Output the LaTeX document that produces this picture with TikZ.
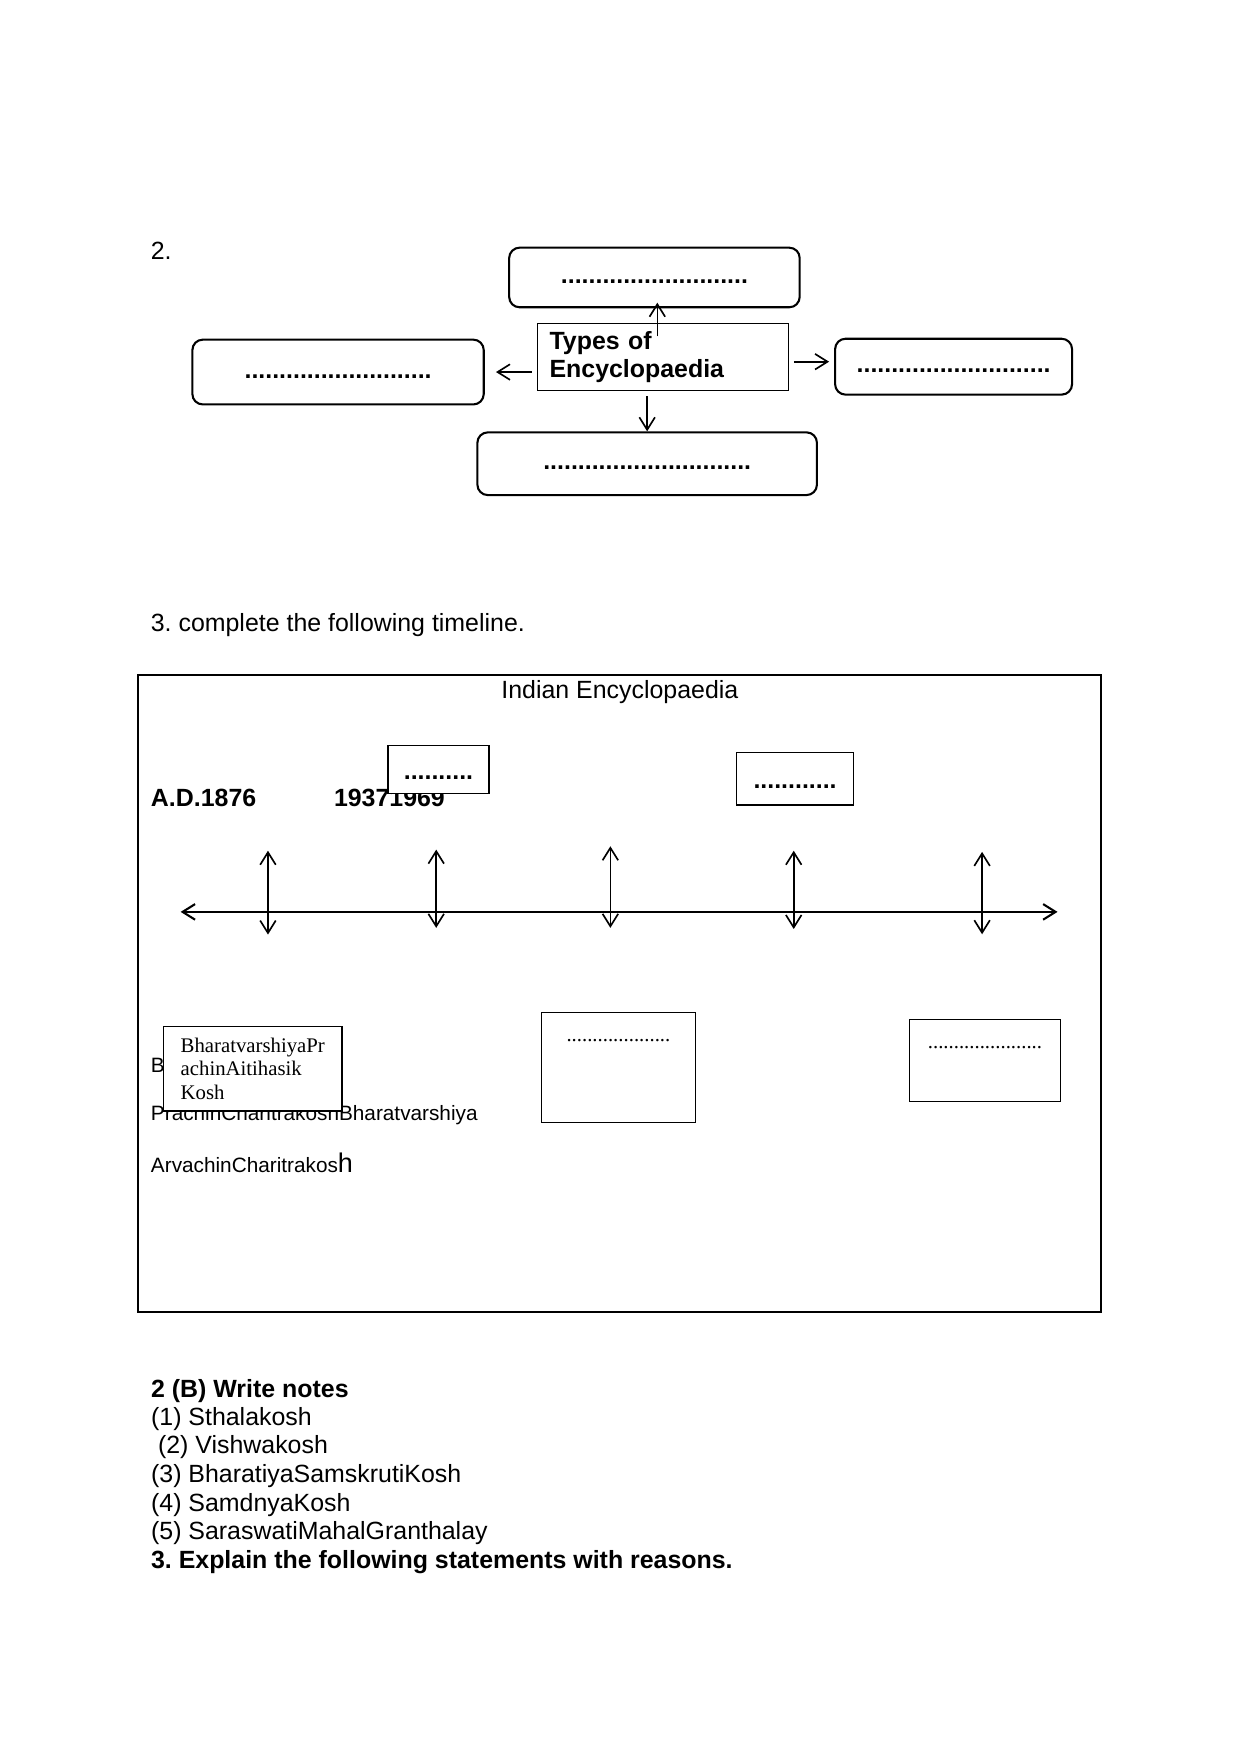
\documentclass[tikz,border=0pt]{standalone}
\usepackage{fontspec}
\setmainfont{Liberation Sans}
\newfontfamily\timesfont{Liberation Serif}
\usepackage{tikz}
\usetikzlibrary{arrows.meta}
\usetikzlibrary{positioning}
\newcommand{\twelve}{\fontsize{12}{13.8}\selectfont}
\newcommand{\ten}{\fontsize{10}{11.4}\selectfont}
\frenchspacing

\begin{document}
\begin{tikzpicture}[x=0.018919cm, y=-0.018919cm,
    every node/.style={inner sep=0pt},
    tip/.style={-{Straight Barb[length=6pt, width=7.5pt]}},
    twotip/.style={{Straight Barb[length=6pt, width=7.5pt]}-{Straight Barb[length=6pt, width=7.5pt]}}]

    % page
    \useasboundingbox (0,0) rectangle (1110,1569);

    % question 2
    \node[anchor=base west, font=\twelve] (q2) at (134.6,232) {2.};

    % centre box
    \node[draw, line width=0.5pt, minimum width=120.8pt, minimum height=32.2pt,
          text width=109.4pt, align=left, font=\fontsize{12}{13.6}\selectfont\bfseries]
        (types) at (593.2,319.2) {Types of\\Encyclopaedia\vphantom{g}\\[-4pt]};

    % boxes to fill in
    \begin{scope}[every node/.style={draw, rounded corners=5pt, line width=1pt, inner sep=0pt,
                                     text height=6pt, font=\twelve\bfseries}]
        \node[minimum width=139.9pt, minimum height=28.7pt] (top) at (585.4,248.2) {...........................};
        \node[minimum width=140.3pt, minimum height=31.2pt] (left) at (302.4,332.8) {...........................};
        \node[minimum width=114.1pt, minimum height=26.9pt] (right) at (853,328) {............................};
        \node[minimum width=163.5pt, minimum height=30.2pt] (bottom) at (578.9,414.8) {..............................};
    \end{scope}

    % arrows
    \begin{scope}[line width=0.8pt]
        \coordinate (upfoot) at (588,301);
        \draw[tip, shorten >=-2.7pt] (upfoot) -- (upfoot |- top.south);
        \draw[tip, shorten <=2.6pt, shorten >=5.4pt] (types.west |- left.east) -- (left.east);
        \draw[tip, shorten <=2.3pt, shorten >=2.4pt] ([yshift=2.4pt]types.east |- right.west) -- ([yshift=2.4pt]right.west);
        \draw[tip, shorten <=2.7pt] (types.south -| bottom.north) -- (bottom.north);
    \end{scope}

    % question 3
    \node[anchor=base west, font=\twelve] (q3) at (134.6,565) {3. complete the following timeline.};
    \node[draw, line width=0.6pt, minimum width=463.8pt, minimum height=306.7pt] (frame) at (554.2,888.7) {};
    \node[anchor=base, font=\twelve] (title) at (554.5,624.5) {Indian Encyclopaedia};

    % years
    \begin{scope}[every node/.style={anchor=base west, inner sep=0pt, font=\twelve\bfseries}]
        \node (y1876) at (134.7,721.5) {A.D.1876};
        \node (y1937) at (298.4,721.5) {19371969};
    \end{scope}

    % upper boxes
    \begin{scope}[every node/.style={draw, fill=white, line width=0.6pt, inner sep=0pt,
                                     text height=10pt, font=\twelve\bfseries}]
        \node[minimum width=48.7pt, minimum height=23.4pt] (ubox1) at (392.2,688.3) {..........};
        \node[minimum width=56.1pt, minimum height=25.4pt] (ubox2) at (711.2,696.4) {............};
    \end{scope}

    % time line
    \coordinate (tlwest) at (161.6,815.7);
    \coordinate (tleast) at (946,815.7);
    \draw[twotip, line width=1pt] (tlwest) -- (tleast);
    \foreach \n/\x/\a/\b in {1/239.7/761/836, 2/390.2/760/830, 3/546/757/830,
                             4/710/761/831, 5/878.5/762/835.7} {
        \coordinate (up\n) at (\x,\a);
        \coordinate (dn\n) at (\x,\b);
        \draw[twotip, line width=0.8pt] (up\n) -- (dn\n);
    }

    % names under the line
    \begin{scope}[every node/.style={anchor=base west, inner sep=0pt, font=\ten}]
        \node (nameB) at (134.7,959.4) {B};
        \node (name1) at (134.7,1002.4) {PrachinCharitrakoshBharatvarshiya};
        \node (name2) at (134.7,1048.6) {ArvachinCharitrakos{\fontsize{13}{15}\selectfont h}};
    \end{scope}

    % lower boxes
    \begin{scope}[every node/.style={draw, fill=white, line width=0.6pt, inner sep=0pt}]
        \node[minimum width=86pt, minimum height=40.7pt, align=left, font=\timesfont\ten]
            (kosh) at (226.1,955.9) {BharatvarshiyaPr\\achinAitihasik\\Kosh};
        \node[minimum width=74.1pt, minimum height=53pt] (lbox1) at (553.2,954.7) {};
        \node[minimum width=72.8pt, minimum height=39.5pt] (lbox2) at (881.1,948.4) {};
    \end{scope}
    \node[anchor=base, font=\timesfont\ten] (dots1) at ([yshift=-14.6pt]lbox1.north) {....................};
    \node[anchor=base, font=\timesfont\ten] (dots2) at ([yshift=-14.5pt]lbox2.north) {......................};

    % notes
    \begin{scope}[every node/.style={anchor=base west, inner sep=0pt, font=\twelve}]
        \node[font=\twelve\bfseries] (notes) at (134.8,1249.8) {2 (B) Write notes};
        \node (note1) at (134.8,1275.5) {(1) Sthalakosh};
        \node (note2) at (134.8,1300.5) {\ (2) Vishwakosh};
        \node (note3) at (134.8,1326.2) {(3) BharatiyaSamskrutiKosh};
        \node (note4) at (134.8,1352) {(4) SamdnyaKosh};
        \node (note5) at (134.8,1377.5) {(5) SaraswatiMahalGranthalay};
        \node[font=\twelve\bfseries] (explain) at (134.8,1402.8) {3. Explain the following statements with reasons.};
    \end{scope}

\end{tikzpicture}
\end{document}
